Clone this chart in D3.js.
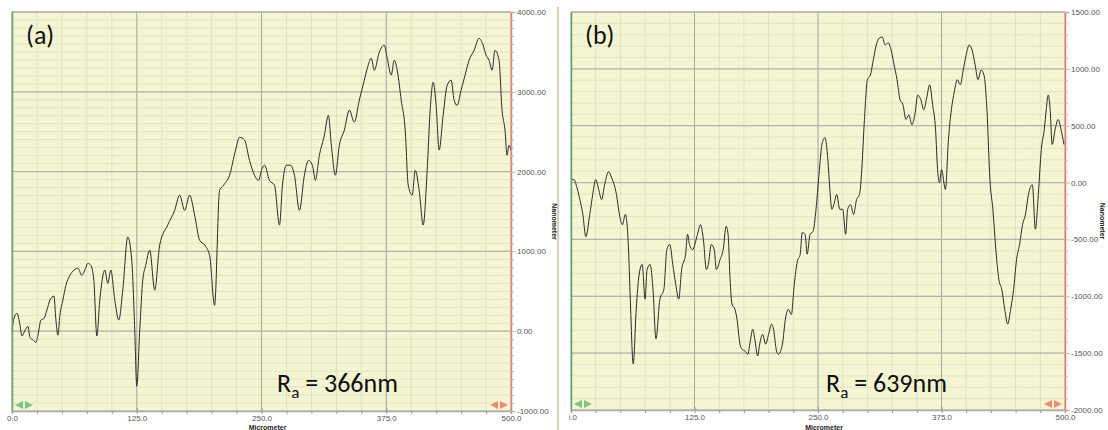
<!DOCTYPE html>
<html lang="en">
<head>
<meta charset="utf-8">
<title>Surface profiles</title>
<script src="https://cdn.jsdelivr.net/npm/d3@7"></script>
<style>
  body { margin: 0; background: #fff; }
  svg { display: block; }
  .tick text { font-family: "Liberation Sans", Arial, sans-serif; font-size: 8px; fill: #555; }
  .axname { font-family: "Liberation Sans", Arial, sans-serif; font-size: 7px; font-weight: bold; fill: #222; }
  .big { font-family: Carlito, Calibri, Lato, "Open Sans", sans-serif; font-size: 26px; fill: #111; }
</style>
</head>
<body>
<script>
// x ticks shared by both profiles (micrometer)
var xTicks = [0, 125, 250, 375, 500];
var aTicks = [-1000, 0, 1000, 2000, 3000, 4000];
var bTicks = [-2000, -1500, -1000, -500, 0, 500, 1000, 1500];

// profile (a): position in micrometer, height in nanometer
var aPos = [0,2,5,8,10,13,16,18,21,24,26,29,32,35,38,42,44,46,48,51,54,58,62,66,70,73,76,79,82,85,88,93,96,99,103,107,111,116,120,123,125,128,131,134,138,143,148,156,163,168,173,178,183,188,193,198,203,208,212,218,224,228,233,238,243,247,250,253,258,263,268,271,275,279,283,288,293,297,301,304,308,313,317,320,324,328,333,338,343,348,353,356,360,363,368,373,376,380,383,386,390,394,397,401,404,408,412,416,419,422,425,428,432,436,440,443,446,450,454,458,463,468,472,475,478,481,484,488,491,494,496,498,500];
var aHt = [10,160,225,75,-60,10,60,-75,-110,-140,-50,140,160,265,390,440,140,-50,200,390,575,700,765,790,700,765,850,825,640,-60,390,765,600,765,390,140,515,1180,890,10,-690,10,640,825,1015,515,1080,1330,1515,1705,1515,1705,1455,1140,1080,950,325,1765,1830,1955,2270,2430,2395,2140,1955,1890,2015,2080,1890,1830,1330,1830,2080,2080,1955,1515,1955,2140,2080,1890,2205,2455,2705,2330,1955,2330,2520,2770,2620,2895,3145,3295,3420,3270,3495,3585,3420,3210,3395,3270,2895,2520,1830,1705,2015,1765,1330,2015,2770,3120,2830,2270,2705,3080,3145,2895,2830,3020,3210,3395,3520,3670,3585,3460,3395,3270,3520,3395,2770,2520,2205,2330,2270];

// profile (b)
var bPos = [0,3,6,9,12,15,19,22,25,28,31,34,38,41,46,49,52,55,58,60,63,66,69,72,75,77,80,83,86,90,94,97,100,103,106,109,112,116,118,120,123,128,131,134,137,139,142,145,147,151,154,157,159,161,163,166,168,171,173,176,179,181,184,186,189,191,194,197,200,203,205,208,210,214,217,220,223,226,229,232,234,237,239,242,245,248,251,254,257,260,262,264,266,269,272,275,278,280,283,286,289,292,294,297,300,303,306,309,312,315,318,321,324,327,330,333,336,339,342,345,348,351,354,357,360,363,366,369,371,373,375,379,382,385,388,391,394,397,400,403,406,409,412,415,418,421,424,427,430,433,436,439,442,445,448,451,454,457,460,463,467,470,473,476,479,481,483,485,487,490,493,496,499];
var bHt = [26,26,-45,-150,-280,-475,-280,-105,26,-60,-150,-20,95,45,-105,-280,-370,-280,-545,-1025,-1595,-1115,-805,-720,-1025,-765,-720,-940,-1375,-1025,-940,-590,-545,-720,-895,-1025,-765,-630,-455,-545,-590,-455,-370,-500,-765,-720,-545,-590,-765,-675,-590,-385,-455,-850,-1070,-1115,-1200,-1420,-1465,-1480,-1510,-1420,-1290,-1375,-1525,-1420,-1335,-1420,-1335,-1245,-1290,-1480,-1510,-1420,-1200,-1115,-1160,-895,-695,-630,-440,-455,-630,-455,-430,-235,70,335,395,200,-60,-235,-195,-105,-235,-235,-455,-235,-195,-280,-150,-105,70,555,905,945,1080,1210,1270,1280,1210,1230,1165,1035,905,730,685,555,595,510,595,770,730,640,745,860,685,465,115,0,115,-60,375,640,800,905,860,990,1125,1210,1165,1035,905,990,945,640,26,-235,-590,-850,-940,-1115,-1245,-1115,-940,-675,-545,-370,-280,-105,-20,-410,-105,290,465,640,770,640,335,465,555,465,335];

var W = 1108, H = 430;
var svg = d3.select("body").append("svg").attr("width", W).attr("height", H);

// separator between the two pictures
svg.append("line").attr("x1", 558).attr("x2", 558).attr("y1", 7).attr("y2", H)
    .attr("stroke", "#cdbf9f").attr("stroke-width", 1.5);

function drawPanel(cfg) {
    var g = svg.append("g");
    if (cfg.clipX) {
        svg.append("clipPath").attr("id", cfg.id + "clip")
            .append("rect").attr("x", cfg.clipX).attr("y", 0).attr("width", W - cfg.clipX).attr("height", H);
        g.attr("clip-path", "url(#" + cfg.id + "clip)");
    }
    var x = d3.scaleLinear().domain([0, 500]).range([cfg.left, cfg.right]);
    var y = d3.scaleLinear().domain(cfg.domain).range([cfg.bottom, cfg.top]);

    g.append("rect").attr("x", cfg.left).attr("y", cfg.top)
        .attr("width", cfg.right - cfg.left).attr("height", cfg.bottom - cfg.top)
        .attr("fill", "#f5f5d3");

    // minor grid
    g.selectAll(".vmin").data(d3.range(0, 501, 25)).enter().append("line")
        .attr("x1", x).attr("x2", x).attr("y1", cfg.top).attr("y2", cfg.bottom)
        .attr("stroke", "#e2e2c4").attr("stroke-width", 1);
    g.selectAll(".hmin").data(d3.range(cfg.domain[0], cfg.domain[1] + 1, 100)).enter().append("line")
        .attr("x1", cfg.left).attr("x2", cfg.right).attr("y1", y).attr("y2", y)
        .attr("stroke", "#e2e2c4").attr("stroke-width", 1);
    // major grid
    g.selectAll(".vmaj").data(xTicks).enter().append("line")
        .attr("x1", x).attr("x2", x).attr("y1", cfg.top).attr("y2", cfg.bottom)
        .attr("stroke", "#a4acaa").attr("stroke-width", 1);
    g.selectAll(".hmaj").data(cfg.ticks).enter().append("line")
        .attr("x1", cfg.left).attr("x2", cfg.right).attr("y1", y).attr("y2", y)
        .attr("stroke", "#b4b4a8").attr("stroke-width", 1.2);

    // profile
    var line = d3.line().x(function (d) { return x(d[0]); }).y(function (d) { return y(d[1]); })
        .curve(d3.curveMonotoneX);
    var pts = cfg.pos.map(function (p, i) { return [p, cfg.ht[i]]; });
    g.append("path").datum(pts).attr("d", line)
        .attr("fill", "none").attr("stroke", "#2a2a2a").attr("stroke-width", 1);

    // borders
    g.append("line").attr("x1", cfg.left).attr("x2", cfg.right).attr("y1", cfg.top).attr("y2", cfg.top)
        .attr("stroke", "#a8a8a8");
    g.append("line").attr("x1", cfg.left + 0.5).attr("x2", cfg.left + 0.5).attr("y1", cfg.top).attr("y2", cfg.bottom)
        .attr("stroke", "#5fa772").attr("stroke-width", 1.5);

    // bottom axis
    var xAxis = d3.axisBottom(x).tickValues(d3.range(0, 501, 25)).tickSize(3)
        .tickFormat(function (d) { return xTicks.indexOf(d) >= 0 ? d.toFixed(1) : ""; });
    var xa = g.append("g").attr("transform", "translate(0," + cfg.bottom + ")").call(xAxis);
    xa.select(".domain").attr("stroke", "#aaa").attr("stroke-width", 1.5);
    xa.selectAll(".tick line").attr("stroke", "#999");
    xa.selectAll(".tick text").attr("dy", "0.45em");
    xa.selectAll(".tick").filter(function (d) { return xTicks.indexOf(d) >= 0; })
        .select("line").attr("y1", -3);

    // right axis
    var yAxis = d3.axisRight(y).tickValues(d3.range(cfg.domain[0], cfg.domain[1] + 1, 100)).tickSize(3)
        .tickFormat(function (d) { return cfg.ticks.indexOf(d) >= 0 ? d.toFixed(2) : ""; });
    var ya = g.append("g").attr("transform", "translate(" + cfg.right + ",0)").call(yAxis);
    ya.select(".domain").attr("stroke", "#ee7a66").attr("stroke-width", 1.5);
    ya.selectAll(".tick line").attr("stroke", "#bbb");
    ya.selectAll(".tick").filter(function (d) { return cfg.ticks.indexOf(d) >= 0; })
        .select("line").attr("x2", 5);

    // double arrow markers
    function arrows(cx, col) {
        var cy = cfg.bottom - 6;
        g.append("path")
            .attr("d", "M" + (cx - 9) + "," + cy + "L" + (cx - 1) + "," + (cy - 4) + "L" + (cx - 1) + "," + (cy + 4) + "Z" +
                "M" + (cx + 9) + "," + cy + "L" + (cx + 1) + "," + (cy - 4) + "L" + (cx + 1) + "," + (cy + 4) + "Z")
            .attr("fill", col);
    }
    arrows(cfg.left + 12, "#7cc47f");
    arrows(cfg.right - 12, "#f08a78");

    g.append("text").attr("class", "axname").attr("text-anchor", "middle")
        .attr("x", (cfg.left + cfg.right) / 2 + 6).attr("y", 430).text("Micrometer");
    g.append("text").attr("class", "axname").attr("text-anchor", "middle")
        .attr("transform", "translate(" + cfg.nameX + "," + ((cfg.top + cfg.bottom) / 2 + 10) + ")rotate(90)")
        .text("Nanometer");

    g.append("text").attr("class", "big").attr("x", cfg.left + 14).attr("y", cfg.top + 32).text(cfg.label);
    var t = g.append("text").attr("class", "big").attr("x", cfg.left + cfg.raX).attr("y", 392);
    t.append("tspan").text("R");
    t.append("tspan").attr("dy", 6).attr("font-size", "17px").text("a");
    t.append("tspan").attr("dy", -6).text(" = " + cfg.ra);
}

drawPanel({ id: "a", left: 12, right: 511, top: 12, bottom: 411, domain: [-1000, 4000],
    ticks: aTicks, pos: aPos, ht: aHt, label: "(a)", ra: "366nm", raX: 265, nameX: 552 });
drawPanel({ id: "b", left: 571, right: 1065, top: 12, bottom: 410, domain: [-2000, 1500],
    ticks: bTicks, pos: bPos, ht: bHt, label: "(b)", ra: "639nm", raX: 255, nameX: 1100, clipX: 569 });
</script>
</body>
</html>
